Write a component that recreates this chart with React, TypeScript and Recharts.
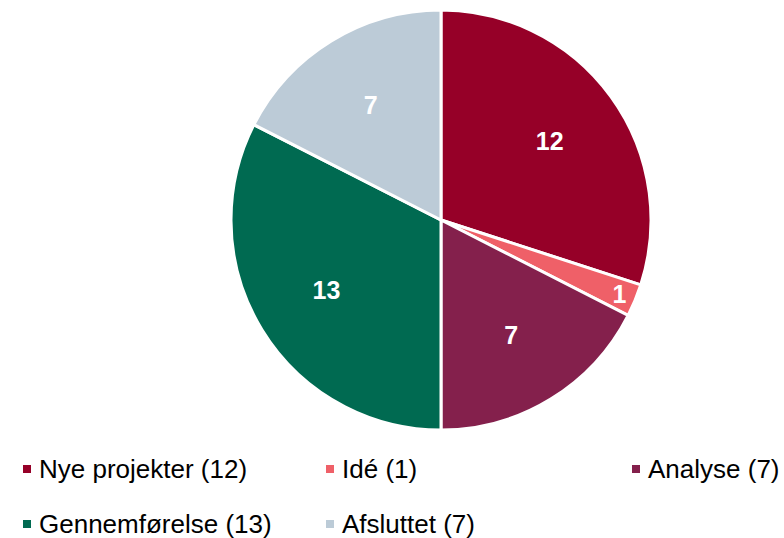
import React from 'react'
import { PieChart, Pie, Cell } from 'recharts'

const categories = ['Nye projekter', 'Idé', 'Analyse', 'Gennemførelse', 'Afsluttet']
const values = [12, 1, 7, 13, 7]
const colors = ['#960028', '#ef6068', '#84204c', '#006a51', '#bccbd7']

const data = categories.map((name, i) => ({ name, value: values[i] }))

const RADIAN = Math.PI / 180

const renderLabel = ({ cx, cy, midAngle, outerRadius, percent, value }: any) => {
  // small slices get their label pushed out near the rim
  const r = percent < 0.05 ? outerRadius * 0.92 : outerRadius * 0.64
  const x = cx + r * Math.cos(-midAngle * RADIAN)
  const y = cy + r * Math.sin(-midAngle * RADIAN)
  return (
    <text x={x} y={y} fill="#fff" fontSize={25} fontWeight={700} textAnchor="middle" dominantBaseline="central"
      style={{ fontFamily: '"Liberation Sans", Arial, sans-serif' }}>
      {value}
    </text>
  )
}

const legendPos = [
  { left: 23, top: 456 },
  { left: 326, top: 456 },
  { left: 632, top: 456 },
  { left: 23, top: 511 },
  { left: 326, top: 511 },
]

export default function App() {
  return (
    <div style={{ position: 'absolute', left: 0, top: 0, width: 784, height: 538, background: '#fff', fontFamily: '"Liberation Sans", Arial, sans-serif' }}>
      <PieChart width={784} height={538} margin={{ top: 0, right: 0, bottom: 0, left: 0 }}>
        <Pie data={data} dataKey="value" nameKey="name" cx={441} cy={220} outerRadius={210}
          startAngle={90} endAngle={-270} stroke="#fff" strokeWidth={3}
          label={renderLabel} labelLine={false} isAnimationActive={false}>
          {data.map((d, i) => <Cell key={d.name} fill={colors[i]} />)}
        </Pie>
      </PieChart>
      {data.map((d, i) => (
        <div key={d.name} style={{ position: 'absolute', left: legendPos[i].left, top: legendPos[i].top, display: 'flex', alignItems: 'center', whiteSpace: 'nowrap', fontSize: 26, color: '#000', lineHeight: '26px' }}>
          <span style={{ display: 'inline-block', width: 8, height: 8, background: colors[i], marginRight: 8 }} />
          <span>{d.name} ({d.value})</span>
        </div>
      ))}
    </div>
  )
}
